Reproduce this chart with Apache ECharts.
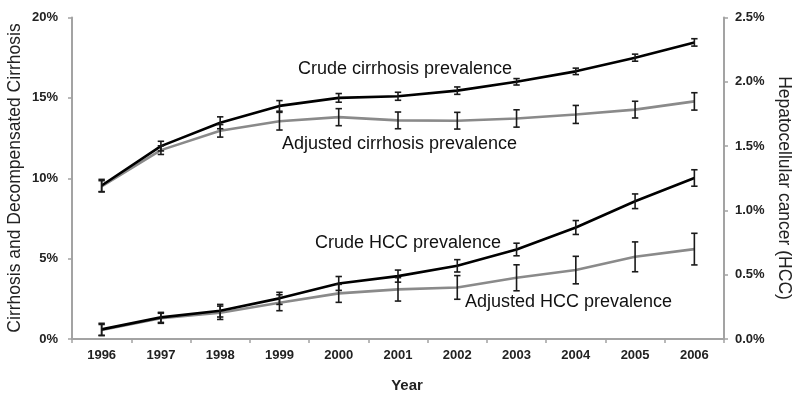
<!DOCTYPE html>
<html><head><meta charset="utf-8">
<script src="https://cdn.jsdelivr.net/npm/echarts@6/dist/echarts.min.js"></script>
<style>html,body{margin:0;padding:0;background:#fff}#c{width:800px;height:402px}</style>
</head><body><div id="c"></div>
<script>
const years = ['1996','1997','1998','1999','2000','2001','2002','2003','2004','2005','2006'];
const leftTicks = [0,5,10,15,20];
const rightTicks = [0,0.5,1.0,1.5,2.0,2.5];
// Cirrhosis (% , left axis)
const crudeCirr    = [9.55,12.0,13.45,14.5,15.0,15.1,15.45,16.0,16.65,17.5,18.45];
const crudeCirrErr = [0.38,0.3,0.37,0.33,0.27,0.25,0.23,0.2,0.2,0.22,0.23];
const adjCirr      = [9.5,11.75,12.95,13.55,13.8,13.6,13.58,13.72,13.97,14.27,14.78];
const adjCirrErr   = [0.35,0.27,0.39,0.55,0.53,0.52,0.52,0.54,0.56,0.52,0.54];
// HCC (% , right axis)
const crudeHcc     = [0.075,0.168,0.22,0.316,0.432,0.489,0.569,0.696,0.867,1.071,1.252];
const crudeHccErr  = [0.047,0.039,0.049,0.047,0.054,0.047,0.048,0.049,0.054,0.057,0.064];
const adjHcc       = [0.07,0.161,0.204,0.282,0.355,0.386,0.401,0.476,0.536,0.639,0.699];
const adjHccErr    = [0.043,0.039,0.052,0.062,0.07,0.091,0.092,0.101,0.107,0.116,0.123];

const FONT = '"Liberation Sans", Arial, sans-serif';
const AX = '#a3a3a3';

function errData(vals, errs){ return vals.map((v,i)=>[i, v-errs[i], v+errs[i]]); }
function errSeries(vals, errs, yIdx){
  return {
    type:'custom', yAxisIndex:yIdx, z:5,
    data: errData(vals, errs),
    encode:{x:0,y:[1,2]},
    renderItem:function(params, api){
      const x = api.value(0);
      const lo = api.coord([x, api.value(1)]);
      const hi = api.coord([x, api.value(2)]);
      const w = 3.2;
      const st = {stroke:'#1a1a1a', lineWidth:1.6};
      return {type:'group', children:[
        {type:'line', shape:{x1:lo[0],y1:lo[1],x2:hi[0],y2:hi[1]}, style:st},
        {type:'line', shape:{x1:lo[0]-w,y1:lo[1],x2:lo[0]+w,y2:lo[1]}, style:st},
        {type:'line', shape:{x1:hi[0]-w,y1:hi[1],x2:hi[0]+w,y2:hi[1]}, style:st}
      ]};
    }
  };
}
function lineSeries(vals, color, yIdx){
  return {type:'line', yAxisIndex:yIdx, data:vals, showSymbol:false, smooth:false,
    lineStyle:{color:color, width:2.6}, itemStyle:{color:color}, z:3};
}

const chart = echarts.init(document.getElementById('c'));
chart.setOption({
  animation:false,
  grid:{left:72, right:76, top:17.5, bottom:63, containLabel:false, outerBoundsMode:'none'},
  xAxis:[{
    type:'category', data:years, boundaryGap:true,
    name:'Year', nameLocation:'middle', nameGap:39,
    nameTextStyle:{fontFamily:FONT, fontSize:15, fontWeight:'bold', color:'#222', padding:[0,0,0,18]},
    axisLine:{lineStyle:{color:AX, width:2}},
    axisTick:{show:true, alignWithLabel:false, length:4, lineStyle:{color:AX, width:1.5}},
    axisLabel:{fontFamily:FONT, fontSize:13, fontWeight:'bold', color:'#222', margin:10},
    splitLine:{show:false}
  },{
    type:'category', data:years, position:'top',
    axisLine:{lineStyle:{color:AX, width:2}}, axisTick:{show:false}, axisLabel:{show:false}
  }],
  yAxis:[{
    type:'value', min:0, max:20, interval:5, position:'left',
    axisLine:{show:true, lineStyle:{color:AX, width:2}},
    axisTick:{show:true, length:4, lineStyle:{color:AX, width:1.5}},
    axisLabel:{fontFamily:FONT, fontSize:13, fontWeight:'bold', color:'#222', margin:14,
      formatter:v=>leftTicks.includes(v)? v+'%':''},
    splitLine:{show:false}
  },{
    type:'value', min:0, max:2.5, interval:0.5, position:'right',
    axisLine:{show:true, lineStyle:{color:AX, width:2}},
    axisTick:{show:true, inside:false, length:4, lineStyle:{color:AX, width:1.5}},
    axisLabel:{fontFamily:FONT, fontSize:13, fontWeight:'bold', color:'#222', margin:11,
      formatter:v=>rightTicks.some(t=>Math.abs(t-v)<1e-9)? v.toFixed(1)+'%':''},
    splitLine:{show:false}
  }],
  series:[
    lineSeries(adjCirr,'#8a8a8a',0),
    lineSeries(crudeCirr,'#000000',0),
    lineSeries(adjHcc,'#8a8a8a',1),
    lineSeries(crudeHcc,'#000000',1),
    errSeries(adjCirr, adjCirrErr, 0),
    errSeries(crudeCirr, crudeCirrErr, 0),
    errSeries(adjHcc, adjHccErr, 1),
    errSeries(crudeHcc, crudeHccErr, 1)
  ],
  graphic:[
    {type:'text', x:15, y:178, rotation:Math.PI/2,
      style:{text:'Cirrhosis and Decompensated Cirrhosis', font:'17.5px '+FONT, fill:'#222', align:'center', verticalAlign:'middle'}},
    {type:'text', x:784, y:188, rotation:-Math.PI/2,
      style:{text:'Hepatocellular cancer (HCC)', font:'17.5px '+FONT, fill:'#222', align:'center', verticalAlign:'middle'}},
    {type:'text', left:298, top:60, style:{text:'Crude cirrhosis prevalence', font:'18px '+FONT, fill:'#111'}},
    {type:'text', left:282, top:135, style:{text:'Adjusted cirrhosis prevalence', font:'18px '+FONT, fill:'#111'}},
    {type:'text', left:315, top:234, style:{text:'Crude HCC prevalence', font:'18px '+FONT, fill:'#111'}},
    {type:'text', left:465, top:293, style:{text:'Adjusted HCC prevalence', font:'18px '+FONT, fill:'#111'}}
  ]
});
</script></body></html>
